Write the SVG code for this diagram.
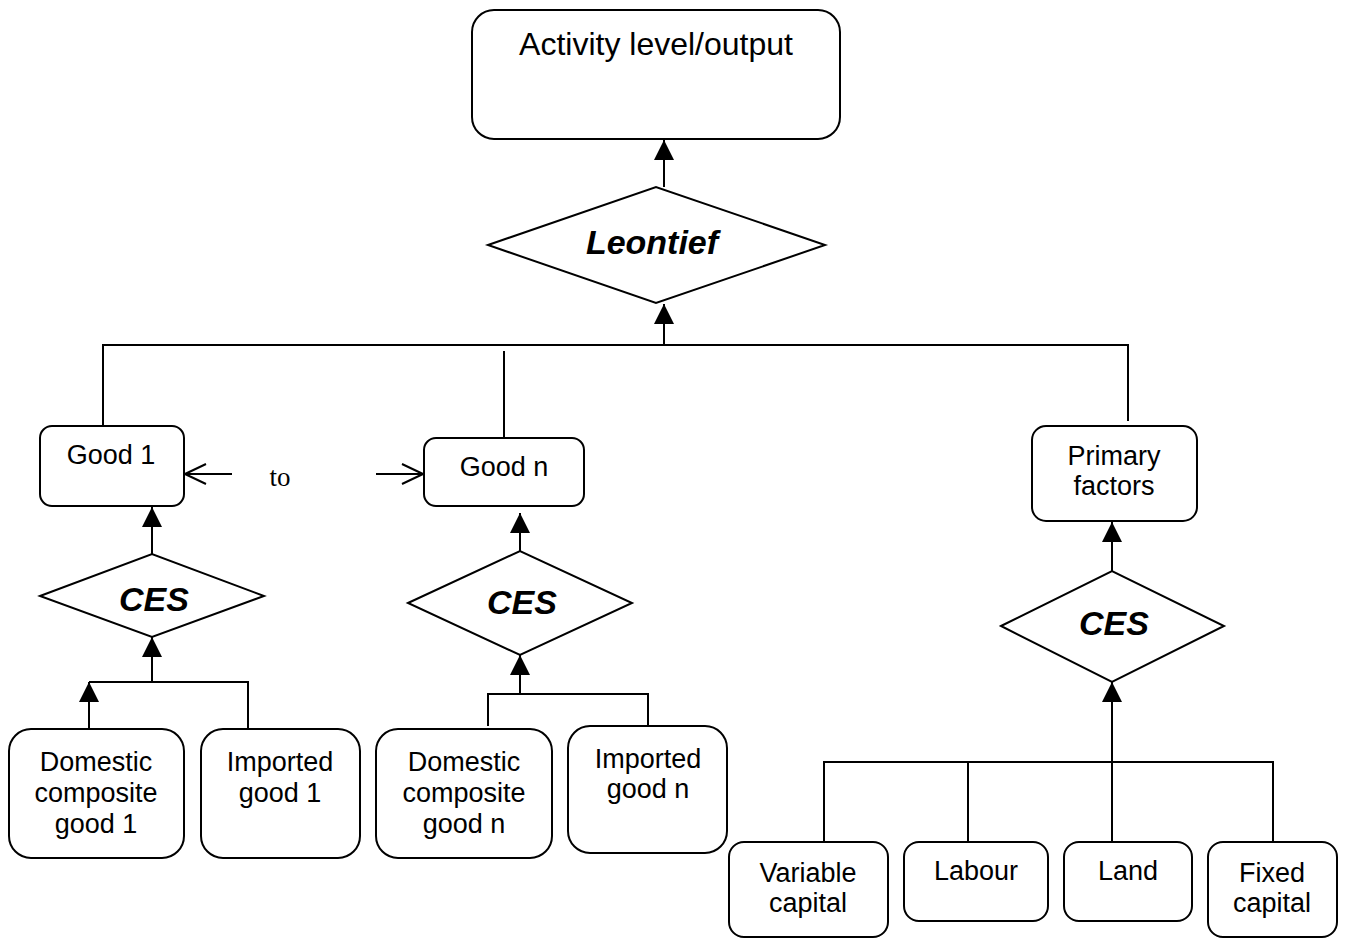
<svg xmlns="http://www.w3.org/2000/svg" width="1348" height="938" viewBox="0 0 1348 938">
  <style>
    .box{fill:#fff;stroke:#000;stroke-width:2}
    .dia{fill:#fff;stroke:#000;stroke-width:2}
    .ln{fill:none;stroke:#000;stroke-width:2}
    .t{font-family:"Liberation Sans",Arial,sans-serif;font-size:27px;text-anchor:middle;fill:#000}
    .big{font-size:32px}
    .bi{font-family:"Liberation Sans",Arial,sans-serif;font-weight:bold;font-style:italic;font-size:34px;text-anchor:middle;fill:#000}
    .to{font-family:"Liberation Serif","Times New Roman",serif;font-size:27px;text-anchor:middle;fill:#000}
  </style>
  <defs>
    <marker id="ah" markerUnits="userSpaceOnUse" markerWidth="22" markerHeight="22" refX="20" refY="10" orient="auto">
      <path d="M0,0 L20,10 L0,20 z" fill="#000"/>
    </marker>
    <marker id="oa" markerUnits="userSpaceOnUse" markerWidth="24" markerHeight="24" refX="22" refY="11" orient="auto">
      <path d="M1,1 L22,11 L1,21" fill="none" stroke="#000" stroke-width="2"/>
    </marker>
  </defs>

  <g id="connectors">
    <line class="ln" x1="664" y1="187" x2="664" y2="140" marker-end="url(#ah)"/>
    <line class="ln" x1="664" y1="345" x2="664" y2="304" marker-end="url(#ah)"/>
    <polyline class="ln" points="103,426 103,345 1128,345 1128,421"/>
    <line class="ln" x1="504" y1="351" x2="504" y2="443"/>
    <line class="ln" x1="232" y1="474" x2="185" y2="474" marker-end="url(#oa)"/>
    <line class="ln" x1="376" y1="474" x2="423" y2="474" marker-end="url(#oa)"/>
    <!-- good 1 -->
    <line class="ln" x1="152" y1="554" x2="152" y2="507" marker-end="url(#ah)"/>
    <line class="ln" x1="152" y1="682" x2="152" y2="637" marker-end="url(#ah)"/>
    <polyline class="ln" points="89,682 248,682 248,729"/>
    <line class="ln" x1="89" y1="729" x2="89" y2="682" marker-end="url(#ah)"/>
    <!-- good n -->
    <line class="ln" x1="520" y1="551" x2="520" y2="513" marker-end="url(#ah)"/>
    <line class="ln" x1="520" y1="694" x2="520" y2="655" marker-end="url(#ah)"/>
    <polyline class="ln" points="488,726 488,694 648,694 648,726"/>
    <!-- primary factors -->
    <line class="ln" x1="1112" y1="571" x2="1112" y2="522" marker-end="url(#ah)"/>
    <line class="ln" x1="1112" y1="762" x2="1112" y2="682" marker-end="url(#ah)"/>
    <polyline class="ln" points="824,842 824,762 1273,762 1273,842"/>
    <line class="ln" x1="968" y1="762" x2="968" y2="842"/>
    <line class="ln" x1="1112" y1="762" x2="1112" y2="842"/>
  </g>

  <g id="output">
    <rect class="box" x="472" y="10" width="368" height="129" rx="22"/>
    <text class="t big" x="656" y="55">Activity level/output</text>
  </g>
  <g id="leontief">
    <polygon class="dia" points="488,245 656,187 825,245 656,303"/>
    <text class="bi" x="652" y="254">Leontief</text>
  </g>
  <g id="good1">
    <rect class="box" x="40" y="426" width="144" height="80" rx="12"/>
    <text class="t" x="111" y="464">Good 1</text>
  </g>
  <g id="to-label">
    <text class="to" x="280" y="486">to</text>
  </g>
  <g id="goodn">
    <rect class="box" x="424" y="438" width="160" height="68" rx="12"/>
    <text class="t" x="504" y="476">Good n</text>
  </g>
  <g id="primary">
    <rect class="box" x="1032" y="426" width="165" height="95" rx="14"/>
    <text class="t" x="1114" y="465">Primary</text>
    <text class="t" x="1114" y="495">factors</text>
  </g>
  <g id="ces1">
    <polygon class="dia" points="40,596 152,554 264,596 152,637"/>
    <text class="bi" x="154" y="611">CES</text>
  </g>
  <g id="ces2">
    <polygon class="dia" points="408,603 520,551 632,603 520,655"/>
    <text class="bi" x="522" y="614">CES</text>
  </g>
  <g id="ces3">
    <polygon class="dia" points="1001,626 1112,571 1224,626 1112,682"/>
    <text class="bi" x="1114" y="635">CES</text>
  </g>
  <g id="dom1">
    <rect class="box" x="9" y="729" width="175" height="129" rx="22"/>
    <text class="t" x="96" y="771">Domestic</text>
    <text class="t" x="96" y="802">composite</text>
    <text class="t" x="96" y="833">good 1</text>
  </g>
  <g id="imp1">
    <rect class="box" x="201" y="729" width="159" height="129" rx="22"/>
    <text class="t" x="280" y="771">Imported</text>
    <text class="t" x="280" y="802">good 1</text>
  </g>
  <g id="domn">
    <rect class="box" x="376" y="729" width="176" height="129" rx="22"/>
    <text class="t" x="464" y="771">Domestic</text>
    <text class="t" x="464" y="802">composite</text>
    <text class="t" x="464" y="833">good n</text>
  </g>
  <g id="impn">
    <rect class="box" x="568" y="726" width="159" height="127" rx="22"/>
    <text class="t" x="648" y="768">Imported</text>
    <text class="t" x="648" y="798">good n</text>
  </g>
  <g id="varcap">
    <rect class="box" x="729" y="842" width="159" height="95" rx="15"/>
    <text class="t" x="808" y="882">Variable</text>
    <text class="t" x="808" y="912">capital</text>
  </g>
  <g id="labour">
    <rect class="box" x="904" y="842" width="144" height="79" rx="15"/>
    <text class="t" x="976" y="880">Labour</text>
  </g>
  <g id="land">
    <rect class="box" x="1064" y="842" width="128" height="79" rx="15"/>
    <text class="t" x="1128" y="880">Land</text>
  </g>
  <g id="fixcap">
    <rect class="box" x="1208" y="842" width="129" height="95" rx="15"/>
    <text class="t" x="1272" y="882">Fixed</text>
    <text class="t" x="1272" y="912">capital</text>
  </g>
</svg>
